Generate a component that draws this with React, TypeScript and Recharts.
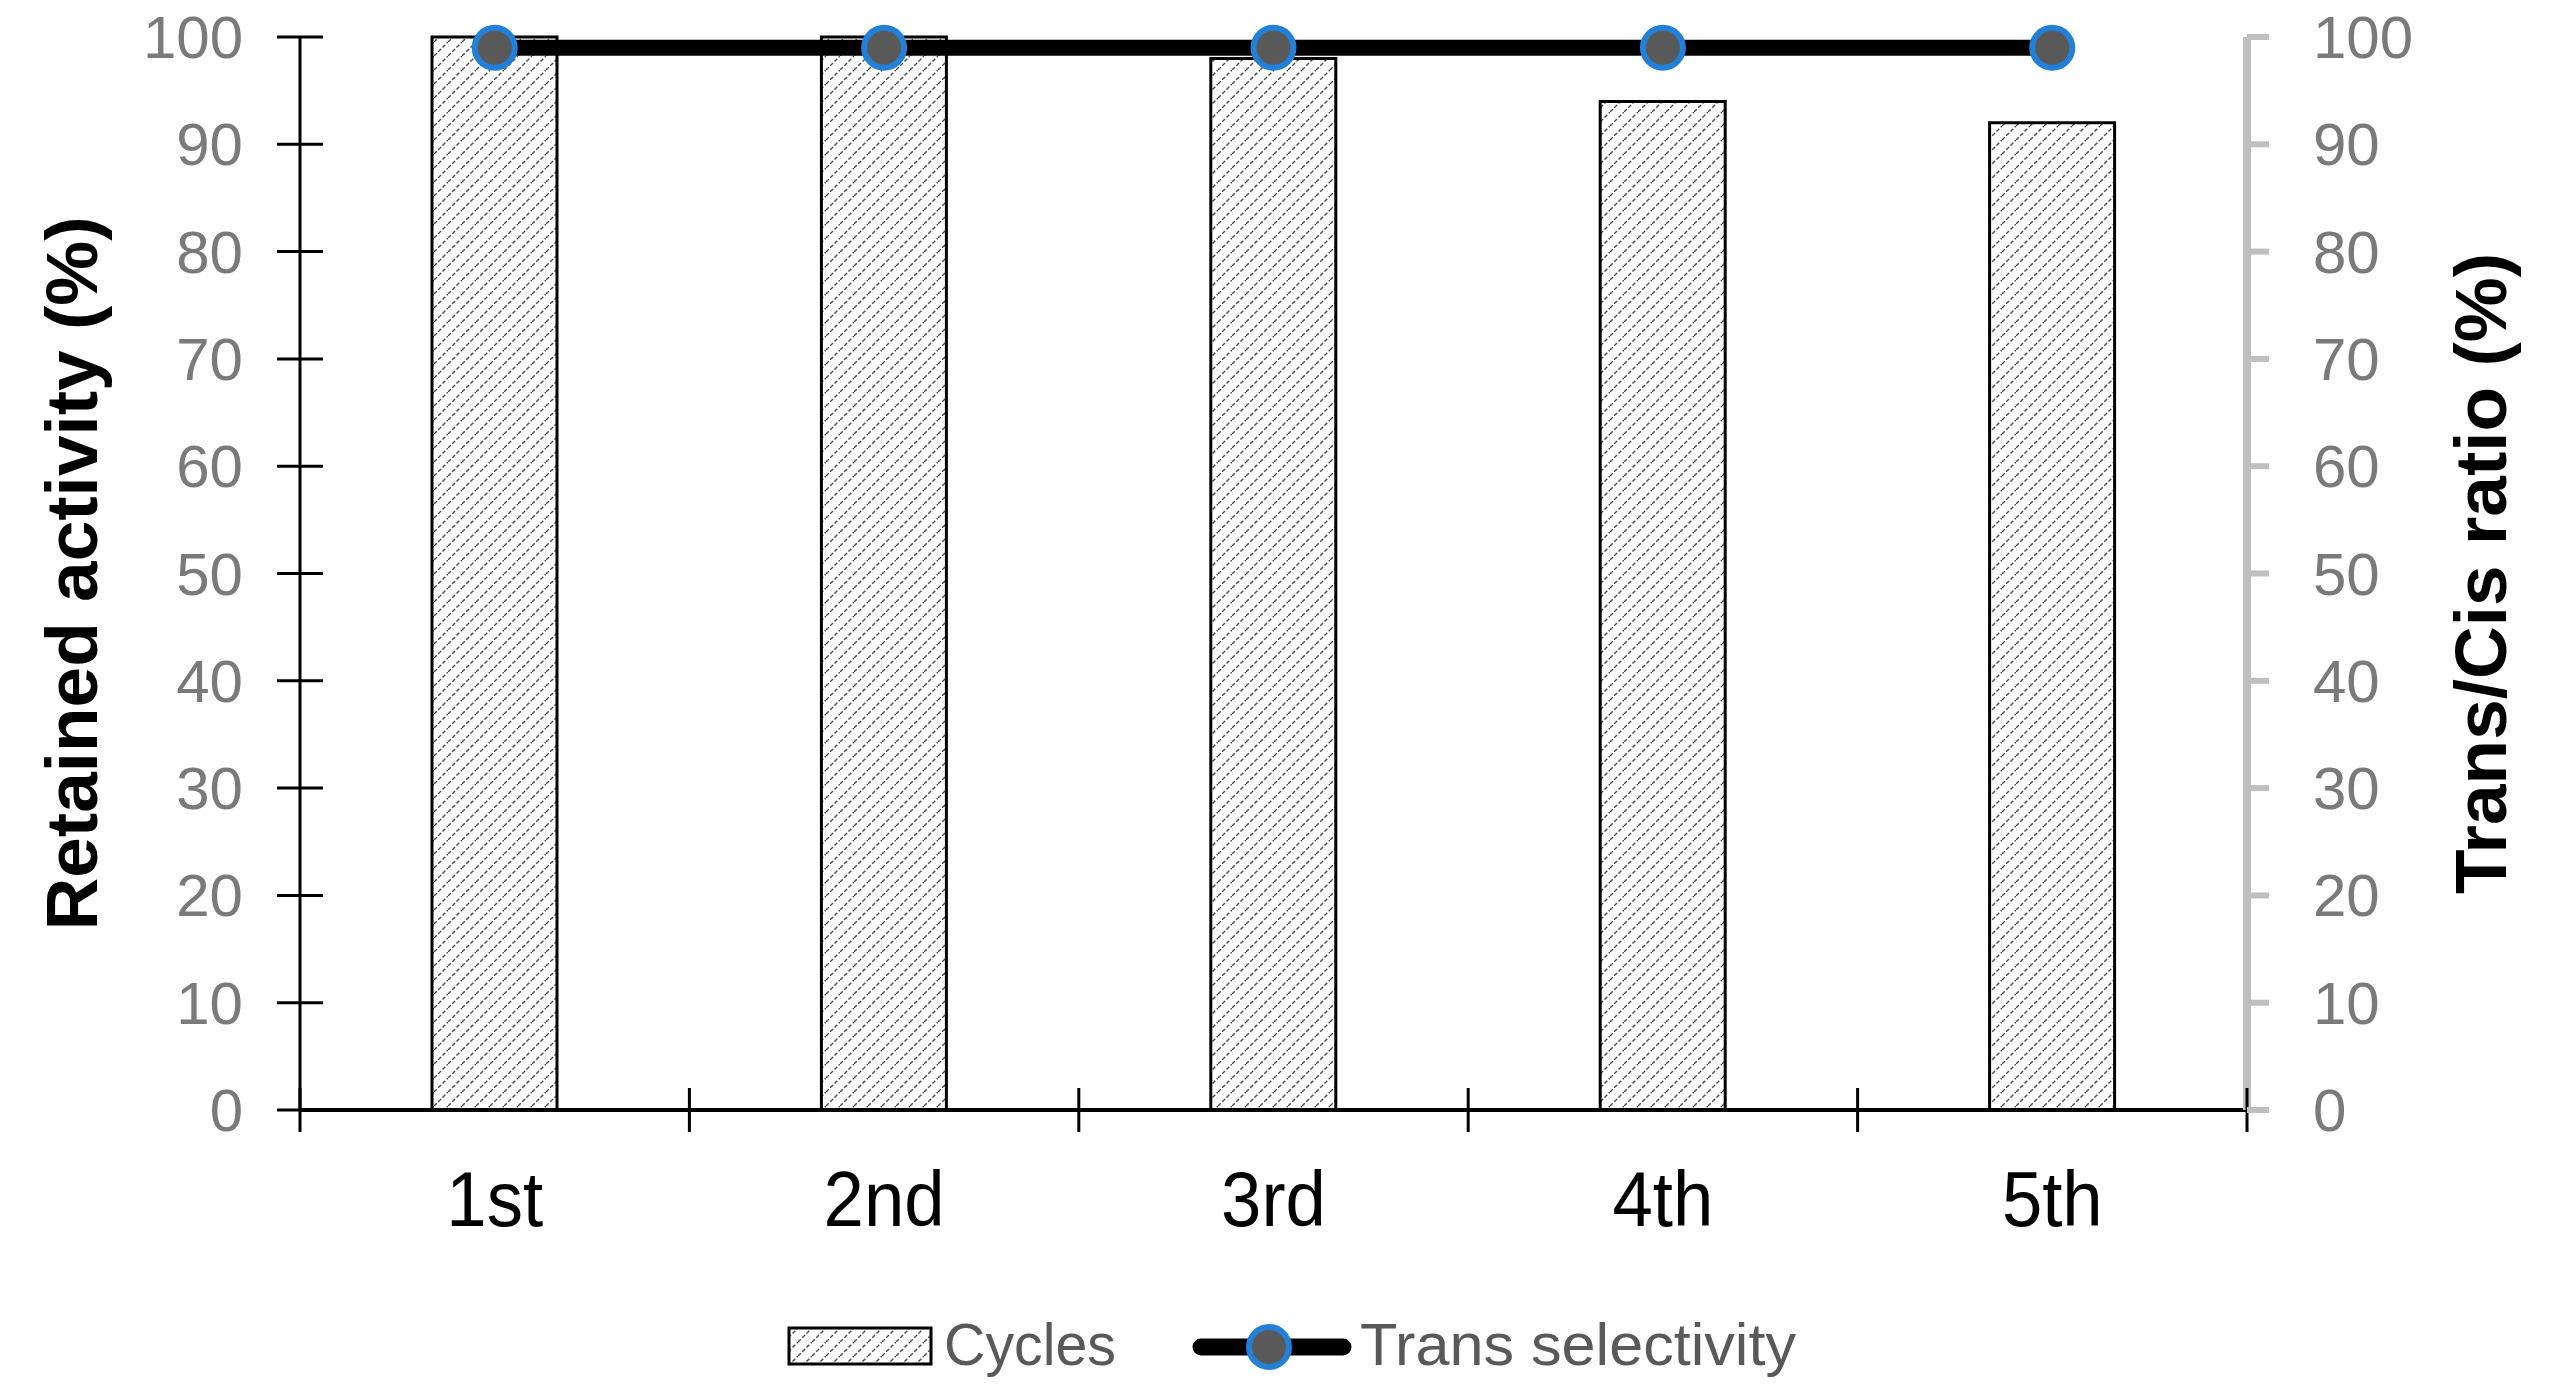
import { Bar, ComposedChart, Legend, Line, XAxis, YAxis } from 'recharts'

const cycles = ['1st', '2nd', '3rd', '4th', '5th']
const retainedActivity = [100, 100, 98, 94, 92]
const transSelectivity = [99, 99, 99, 99, 99]
const percentTicks = [0, 10, 20, 30, 40, 50, 60, 70, 80, 90, 100]

const data = cycles.map((cycle, i) => ({
  cycle,
  activity: retainedActivity[i],
  selectivity: transSelectivity[i],
}))

const CHART_W = 2553
const CHART_H = 1394
const LEFT_W = 300
const RIGHT_W = 306
const BAND = (CHART_W - LEFT_W - RIGHT_W) / cycles.length

const SANS = '"Liberation Sans", Arial, sans-serif'
const NARROW = '"Liberation Sans Narrow", "Arial Narrow", "Liberation Sans", sans-serif'
const TICK_GREY = '#7a7a7a'
const AXIS_GREY = '#bfbfbf'
const MARKER_BLUE = '#2380d8'
const MARKER_FILL = '#595959'

interface TickProps {
  x?: number
  y?: number
  index?: number
  payload?: { value: string | number }
}

function LeftTick({ x = 0, y = 0, payload }: TickProps) {
  return (
    <g>
      <line x1={x - 23} x2={x + 23} y1={y} y2={y} stroke="#000" strokeWidth={3} />
      <text x={x - 57} y={y} dy={21} textAnchor="end" fontSize={60} fill={TICK_GREY} fontFamily={SANS}>
        {payload?.value}
      </text>
    </g>
  )
}

function RightTick({ x = 0, y = 0, payload }: TickProps) {
  return (
    <g>
      <line x1={x} x2={x + 22} y1={y} y2={y} stroke={AXIS_GREY} strokeWidth={6} />
      <text x={x + 66} y={y} dy={21} textAnchor="start" fontSize={60} fill={TICK_GREY} fontFamily={SANS}>
        {payload?.value}
      </text>
    </g>
  )
}

function CycleTick({ x = 0, y = 0, index = 0, payload }: TickProps) {
  const half = BAND / 2
  return (
    <g>
      <line x1={x - half} x2={x - half} y1={y - 22} y2={y + 22} stroke="#000" strokeWidth={3} />
      {index === cycles.length - 1 && (
        <line x1={x + half} x2={x + half} y1={y - 22} y2={y + 22} stroke="#000" strokeWidth={3} />
      )}
      <text
        x={x}
        y={y + 116}
        textAnchor="middle"
        fontSize={78}
        fill="#000"
        fontFamily={SANS}
        transform={`translate(${x * 0.07} 0) scale(0.93 1)`}
      >
        {payload?.value}
      </text>
    </g>
  )
}

interface TitleProps {
  viewBox?: { x: number; y: number; width: number; height: number }
  text: string
  baseline: number
}

function AxisTitle({ viewBox, text, baseline }: TitleProps) {
  const vb = viewBox ?? { x: 0, y: 0, width: 0, height: 0 }
  const tx = vb.x + baseline
  const ty = vb.y + vb.height / 2
  return (
    <text
      x={tx}
      y={ty}
      textAnchor="middle"
      transform={`rotate(-90 ${tx} ${ty})`}
      fontSize={73}
      fontWeight="bold"
      fill="#000"
      fontFamily={SANS}
    >
      {text}
    </text>
  )
}

function HatchDefs({ id }: { id: string }) {
  return (
    <defs>
      <pattern id={id} patternUnits="userSpaceOnUse" width={14} height={14}>
        <rect width={14} height={14} fill="#fff" />
        <path
          d="M-3.5,3.5 l7,-7 M0,14 l14,-14 M10.5,17.5 l7,-7"
          stroke="#4a4a4a"
          strokeWidth={1.4}
          strokeDasharray="4 2"
        />
      </pattern>
    </defs>
  )
}

function LegendContent() {
  return (
    <div style={{ height: 100 }}>
      <svg width={CHART_W} height={100} style={{ display: 'block' }}>
        <HatchDefs id="hatch-legend" />
        <rect x={789} y={42} width={142} height={36} fill="url(#hatch-legend)" stroke="#000" strokeWidth={3} />
        <text x={944} y={79} fontSize={59} fill="#595959" fontFamily={NARROW} textLength={172} lengthAdjust="spacingAndGlyphs">
          Cycles
        </text>
        <line x1={1201} x2={1343} y1={61} y2={61} stroke="#000" strokeWidth={17} strokeLinecap="round" />
        <circle cx={1269} cy={61} r={20} fill={MARKER_FILL} stroke={MARKER_BLUE} strokeWidth={6} />
        <text x={1360} y={79} fontSize={59} fill="#595959" fontFamily={NARROW} textLength={436} lengthAdjust="spacingAndGlyphs">
          Trans selectivity
        </text>
      </svg>
    </div>
  )
}

export default function App() {
  return (
    <div style={{ margin: -8 }}>
      <ComposedChart
        width={CHART_W}
        height={CHART_H}
        data={data}
        margin={{ top: 37, right: 0, bottom: 8, left: 0 }}
        barCategoryGap={0}
      >
        <HatchDefs id="hatch-bar" />
        <XAxis
          dataKey="cycle"
          height={176}
          interval={0}
          tickLine={false}
          tickSize={0}
          tickMargin={0}
          axisLine={{ stroke: '#000', strokeWidth: 4 }}
          tick={<CycleTick />}
        />
        <YAxis
          yAxisId="left"
          width={LEFT_W}
          domain={[0, 100]}
          ticks={percentTicks}
          interval={0}
          tickLine={false}
          tickSize={0}
          tickMargin={0}
          axisLine={{ stroke: '#000', strokeWidth: 3 }}
          tick={<LeftTick />}
          label={<AxisTitle text="Retained activity (%)" baseline={97} />}
        />
        <YAxis
          yAxisId="right"
          orientation="right"
          width={RIGHT_W}
          domain={[0, 100]}
          ticks={percentTicks}
          interval={0}
          tickLine={false}
          tickSize={0}
          tickMargin={0}
          axisLine={{ stroke: AXIS_GREY, strokeWidth: 8 }}
          tick={<RightTick />}
          label={<AxisTitle text="Trans/Cis ratio (%)" baseline={259} />}
        />
        <Legend verticalAlign="bottom" height={100} content={<LegendContent />} />
        <Bar
          yAxisId="left"
          dataKey="activity"
          name="Cycles"
          barSize={125}
          fill="url(#hatch-bar)"
          stroke="#000"
          strokeWidth={3}
          isAnimationActive={false}
        />
        <Line
          yAxisId="right"
          dataKey="selectivity"
          name="Trans selectivity"
          stroke="#000"
          strokeWidth={16}
          dot={{ r: 20, fill: MARKER_FILL, stroke: MARKER_BLUE, strokeWidth: 6 }}
          activeDot={false}
          isAnimationActive={false}
        />
      </ComposedChart>
    </div>
  )
}
